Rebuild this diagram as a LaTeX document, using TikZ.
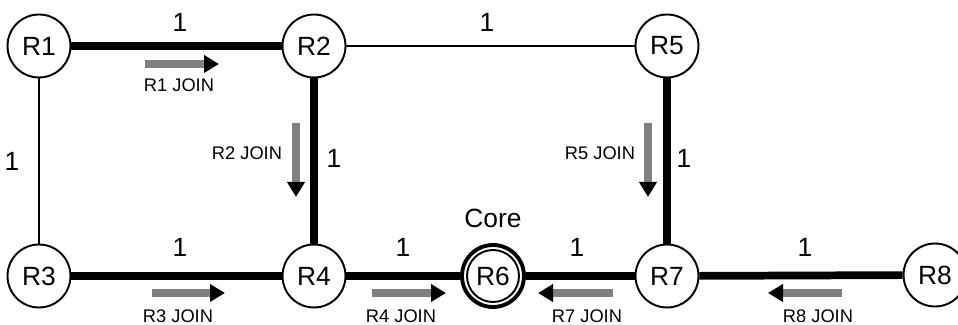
\documentclass[tikz,border=0pt]{standalone}
\usepackage{fontspec}
\setmainfont{Liberation Sans}
\usetikzlibrary{arrows.meta}

\tikzset{
  router/.style={circle, draw, line width=1.1pt, minimum size=1.26cm, inner sep=0pt, fill=white, font=\fontsize{15}{18}\selectfont},
  core/.style={router, line width=2.2pt, minimum size=1.24cm},
  tree/.style={line width=4.4pt},
  link/.style={line width=0.6pt},
  joinarrow/.style={line width=4.5pt, black!50, -{Triangle[length=0.3cm,width=0.34cm,color=black]}},
  joinlbl/.style={font=\fontsize{10.4}{12}\selectfont},
  cost/.style={font=\fontsize{15}{18}\selectfont}
}

\begin{document}
\begin{tikzpicture}
\useasboundingbox (0,0) rectangle (19.16,6.5);

\node[router] (r1) at (0.78,5.58) {R1};
\node[router] (r2) at (6.28,5.58) {R2};
\node[router] (r5) at (13.34,5.58) {R5};
\node[router] (r3) at (0.78,0.98) {R3};
\node[router] (r4) at (6.28,0.98) {R4};
\node[core] (r6) at (9.86,0.98) {R6};
\draw[line width=1.1pt] (r6.center) circle (0.52cm);
\node[router] (r7) at (13.34,0.98) {R7};
\node[router] (r8) at (18.7,1.0) {R8};
\node[cost] (corelbl) at (9.86,2.14) {Core};

\draw[tree] (r1) -- (r2);
\draw[link] (r2) -- (r5);
\draw[link] (r1) -- (r3);
\draw[tree] (r2) -- (r4);
\draw[tree] (r5) -- (r7);
\draw[tree] (r3) -- (r4);
\draw[tree] (r4) -- (r6);
\draw[tree] (r7) -- (r6);
\draw[tree] (r8) -- (r7);

\node[cost] at (3.6,6.06) {1};
\node[cost] at (9.74,6.06) {1};
\node[cost] at (0.24,3.28) {1};
\node[cost] at (6.68,3.34) {1};
\node[cost] at (13.68,3.34) {1};
\node[cost] at (3.6,1.56) {1};
\node[cost] at (8.06,1.56) {1};
\node[cost] at (11.54,1.56) {1};
\node[cost] at (16.1,1.56) {1};

\coordinate (j1a) at (2.9,5.22);   \coordinate (j1b) at (4.38,5.22);
\coordinate (j2a) at (5.92,4.04);  \coordinate (j2b) at (5.92,2.56);
\coordinate (j5a) at (12.96,4.04); \coordinate (j5b) at (12.96,2.56);
\coordinate (j3a) at (3.04,0.64);  \coordinate (j3b) at (4.5,0.64);
\coordinate (j4a) at (7.44,0.64);  \coordinate (j4b) at (8.92,0.64);
\coordinate (j7a) at (12.26,0.64); \coordinate (j7b) at (10.76,0.64);
\coordinate (j8a) at (16.84,0.64); \coordinate (j8b) at (15.36,0.64);

\draw[joinarrow] (j1a) -- (j1b);
\draw[joinarrow] (j2a) -- (j2b);
\draw[joinarrow] (j5a) -- (j5b);
\draw[joinarrow] (j3a) -- (j3b);
\draw[joinarrow] (j4a) -- (j4b);
\draw[joinarrow] (j7a) -- (j7b);
\draw[joinarrow] (j8a) -- (j8b);

\node[joinlbl] at (3.58,4.8) {R1 JOIN};
\node[joinlbl] at (4.94,3.44) {R2 JOIN};
\node[joinlbl] at (12.0,3.44) {R5 JOIN};
\node[joinlbl] at (3.56,0.18) {R3 JOIN};
\node[joinlbl] at (8.02,0.18) {R4 JOIN};
\node[joinlbl] at (11.74,0.18) {R7 JOIN};
\node[joinlbl] at (16.36,0.18) {R8 JOIN};
\end{tikzpicture}
\end{document}
